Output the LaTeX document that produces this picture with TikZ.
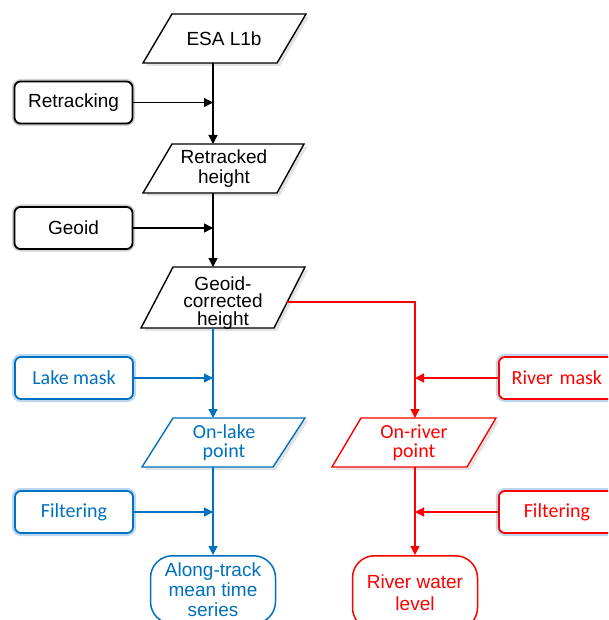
\documentclass[tikz,border=0pt]{standalone}
\usepackage{fontspec}
\setmainfont{Liberation Sans}
\newfontfamily\calfont{Carlito}
\usetikzlibrary{arrows.meta,shadows}
\definecolor{bl}{RGB}{0,112,192}
\definecolor{rd}{RGB}{255,0,0}
\definecolor{glowb}{RGB}{160,200,235}
\tikzset{
  arialtxt/.style={font=\fontsize{19}{20}\selectfont},
  calitxt/.style={font=\calfont\fontsize{20}{19}\selectfont},
  pshadow/.style={drop shadow={opacity=0.22, shadow xshift=3pt, shadow yshift=-3pt}},
  para/.style={line width=1.4pt, fill=white, pshadow},
  inbox/.style={rounded corners=6pt, line width=1.8pt, minimum width=118pt,
    minimum height=42pt, align=center, fill=white, inner sep=2pt},
  blackbox/.style={inbox, draw=black, preaction={draw=black!35, line width=5pt, opacity=0.5}, arialtxt},
  bluebox/.style={inbox, draw=bl, text=bl, preaction={draw=glowb, line width=6pt, opacity=0.7}, calitxt},
  redbox/.style={inbox, draw=rd, text=rd, preaction={draw=glowb, line width=6pt, opacity=0.7}, calitxt,
    anchor=west, minimum width=0pt, text width=96pt, inner xsep=10pt},
  term/.style={rounded corners=22pt, line width=1.5pt, fill=white, anchor=north,
    minimum width=125pt, align=center, arialtxt, inner sep=2pt},
  tip/.style={-{Triangle[length=9pt,width=9pt]}},
  blk/.style={tip, line width=1.4pt, draw=black},
  bla/.style={tip, line width=1.4pt, draw=bl},
  rda/.style={tip, line width=1.4pt, draw=rd},
}
\begin{document}
\begin{tikzpicture}[x=1pt,y=-1pt]
\useasboundingbox (0,0) rectangle (608,620);
\clip (0,0) rectangle (608,620);

% ---- parallelograms (black)
\draw[para, draw=black] (172,14) -- (306,14) -- (277,63) -- (143,63) -- cycle;
\node[arialtxt] (esa) at (224,38.5) {ESA L1b};
\coordinate (esaS) at (213,63);

\draw[para, draw=black] (172,144) -- (304,144) -- (277,193) -- (143,193) -- cycle;
\node[arialtxt, align=center] (ret) at (224,169) {Retracked\\height};
\coordinate (retN) at (213,144);
\coordinate (retS) at (213,193);

\draw[para, draw=black] (173,267) -- (305,267) -- (274,328) -- (141,328) -- cycle;
\node[font=\fontsize{19}{17.5}\selectfont, align=center] (gc) at (223,303) {Geoid-\\corrected\\height};
\coordinate (gcN) at (213,267);
\coordinate (gcS) at (213,328);
\coordinate (gcE) at (287,302);

% ---- parallelograms (blue / red)
\draw[para, draw=bl] (173,418) -- (305,418) -- (273,467) -- (142,467) -- cycle;
\node[calitxt, text=bl, align=center] (lake) at (224,442.5) {On-lake\\point};
\coordinate (lakeN) at (213,418);
\coordinate (lakeS) at (213,467);

\draw[para, draw=rd] (361,418) -- (496,418) -- (467,467) -- (332,467) -- cycle;
\node[calitxt, text=rd, align=center] (river) at (414,442.5) {On-river\\point};
\coordinate (rivN) at (415,418);
\coordinate (rivS) at (415,467);

% ---- side boxes
\node[blackbox] (retrk) at (73.5,102.5) {Retracking};
\node[blackbox] (geoid) at (73.5,228) {Geoid};
\node[bluebox] (lmask) at (74,378) {Lake mask};
\node[bluebox] (lfilt) at (74,512) {Filtering};
\node[redbox] (rmask) at (498,378) {River mask};
\node[redbox] (rfilt) at (498,512) {Filtering};

% ---- terminals
\node[term, draw=bl, text=bl, minimum height=68pt] (along) at (213,555) {Along-track\\mean time\\series};
\node[term, draw=rd, text=rd, minimum height=74pt, font=\fontsize{19}{22}\selectfont] (rwl) at (415,555) {River water\\level};

% ---- junction points
\coordinate (j1) at (213,102.5);
\coordinate (j2) at (213,228);
\coordinate (j3) at (213,378);
\coordinate (j4) at (213,512);
\coordinate (j5) at (415,378);
\coordinate (j6) at (415,512);

% ---- connectors
\draw[blk] (esaS) -- (retN);
\draw[blk] (retrk.east) -- (j1);
\draw[blk] (retS) -- (gcN);
\draw[blk] (geoid.east) -- (j2);

\draw[bla] (gcS) -- (lakeN);
\draw[bla] (lmask.east) -- (j3);
\draw[bla] (lakeS) -- (along.north);
\draw[bla] (lfilt.east) -- (j4);

\draw[rda] (gcE) -| (rivN);
\draw[rda] (rmask.west) -- (j5);
\draw[rda] (rivS) -- (rwl.north);
\draw[rda] (rfilt.west) -- (j6);
\end{tikzpicture}
\end{document}
